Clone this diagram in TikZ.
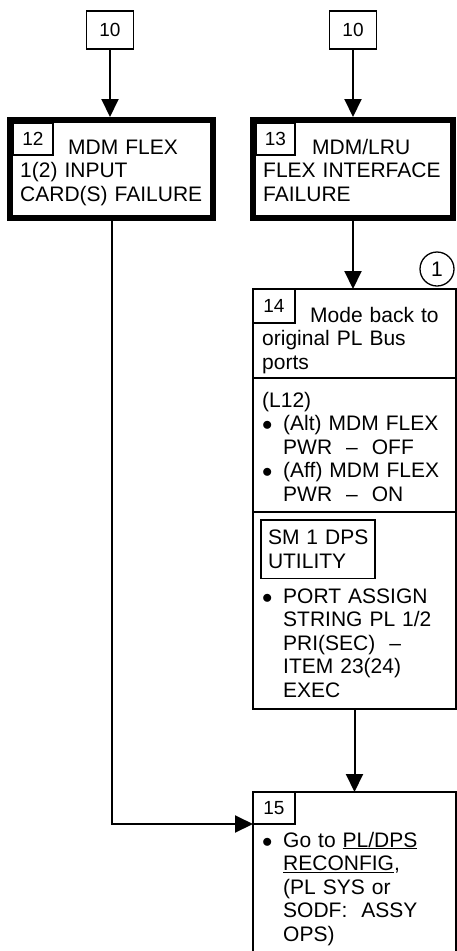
\documentclass[tikz,border=0pt]{standalone}
\usepackage{fontspec}
\setmainfont{Liberation Sans}
\usetikzlibrary{arrows.meta}
\newcommand\dotitem{\makebox[21pt][l]{$\bullet$}}
\newcommand\indt{\hspace*{21pt}}

\begin{document}
\begin{tikzpicture}[
      x=1pt, y=-1pt,
      font=\fontsize{21}{23.5}\selectfont,
      thk/.style={draw, line width=6pt, inner sep=0pt, outer sep=3pt},
      thn/.style={draw, line width=1.3pt, inner sep=0pt, outer sep=0pt},
      num/.style={thn, anchor=north west, font=\fontsize{19}{22}\selectfont},
      txt/.style={anchor=base west, text width=185pt, align=left, inner sep=0pt},
      a/.style={-{Triangle[length=18pt,width=17pt]}, line width=2pt},
    ]
    \useasboundingbox (0,0) rectangle (457,951);
    % entry points
    \node[thn, minimum width=47pt, minimum height=38pt,
          font=\fontsize{19}{22}\selectfont] (ten1) at (110,30) {10};
    \node[thn, minimum width=47pt, minimum height=38pt,
          font=\fontsize{19}{22}\selectfont] (ten2) at (353,30) {10};
    % failure boxes
    \node[thk, minimum width=203pt, minimum height=98pt] (f12) at (111.5,169) {};
    \node[thk, minimum width=200pt, minimum height=98pt] (f13) at (353,169) {};
    \node[num, minimum width=40pt, minimum height=32pt] (n12) at (13,123) {12};
    \node[num, minimum width=39pt, minimum height=32pt] (n13) at (256,123) {13};
    \node[txt] (t12) at (20,154) {\hspace*{48pt}MDM FLEX\\1(2) INPUT\\CARD(S) FAILURE};
    \node[txt] (t13) at (263,154) {\hspace*{49pt}MDM/LRU\\FLEX INTERFACE\\FAILURE};
    % step 14
    \node[thn, circle, minimum size=34pt] (c1) at (437,269) {1};
    \node[thn, minimum width=203pt, minimum height=420pt] (f14) at (354.5,499) {};
    \node[num, minimum width=42pt, minimum height=34pt] (n14) at (253,289) {14};
    \node[txt] (t14) at (262,322) {\hspace*{48pt}Mode back to\\original PL Bus\\ports};
    \draw[line width=1.3pt] (f14.west |- 0,378) -- (f14.east |- 0,378);
    \node[txt] (l12) at (262,407) {(L12)\\\dotitem(Alt) MDM FLEX\\\indt PWR\ \ --\ \ OFF\\
                                   \dotitem(Aff) MDM FLEX\\\indt PWR\ \ --\ \ ON};
    \draw[line width=1.3pt] (f14.west |- 0,512) -- (f14.east |- 0,512);
    \node[thn, anchor=north west, inner xsep=5pt, inner ysep=10pt, text width=104pt,
          align=left] (sm1) at (261,520) {\hspace*{2pt}SM 1 DPS\\\hspace*{2pt}UTILITY};
    \node[txt] (port) at (262,603) {\dotitem PORT ASSIGN\\\indt STRING PL 1/2\\
                                    \indt PRI(SEC)\ \ --\\\indt ITEM 23(24)\\\indt EXEC};
    % step 15
    \node[thn, minimum width=203pt, minimum height=170pt] (f15) at (354.5,877) {};
    \node[num, minimum width=42pt, minimum height=32pt] (n15) at (253,792) {15};
    \node[txt] (t15) at (262,847) {\dotitem Go to \underline{PL/DPS}\\\indt\underline{RECONFIG},\\
                                   \indt(PL SYS or\\\indt SODF:\ \ ASSY\\\indt OPS)};

    \draw[a] (ten1.south) -- (ten1.south |- f12.north);
    \draw[a] (ten2.south) -- (ten2.south |- f13.north);
    \draw[a] (f13.south) -- (f13.south |- f14.north);
    \draw[a] (f14.south) -- (f15.north);
    \draw[a] (f12.south) |- (n15.south west);
  \end{tikzpicture}
\end{document}
